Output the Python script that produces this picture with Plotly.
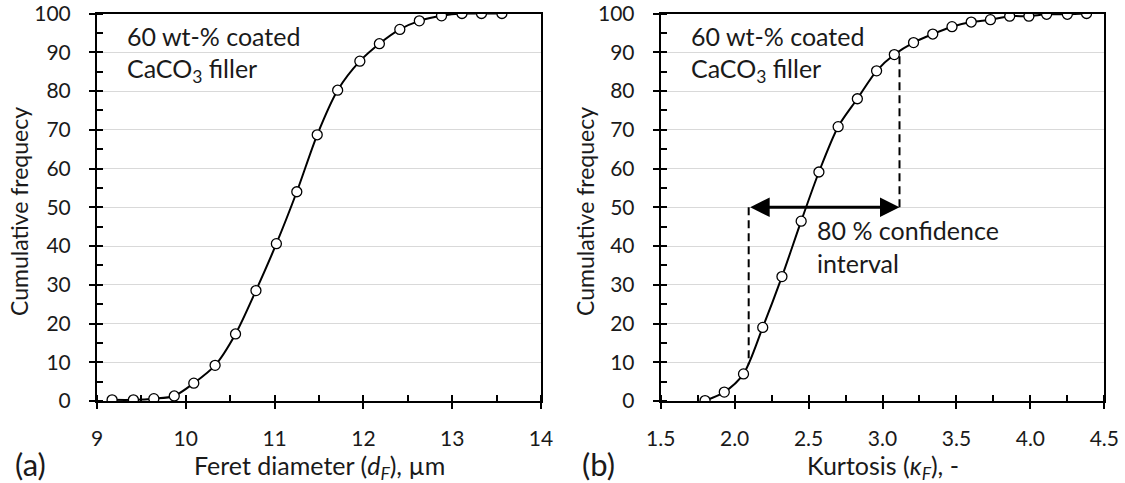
import plotly.graph_objects as go

# ---- data ----
feret_x = [9.17, 9.41, 9.64, 9.87, 10.09, 10.33, 10.56, 10.79, 11.02, 11.25,
           11.48, 11.71, 11.96, 12.18, 12.41, 12.63, 12.88, 13.11, 13.33, 13.56]
feret_y = [0.3, 0.3, 0.6, 1.3, 4.6, 9.2, 17.3, 28.5, 40.6, 54.0,
           68.7, 80.2, 87.7, 92.2, 95.9, 98.1, 99.4, 100.0, 100.0, 100.0]

kurt_x = [1.80, 1.93, 2.06, 2.19, 2.32, 2.45, 2.57, 2.70, 2.83, 2.96,
          3.08, 3.21, 3.34, 3.47, 3.60, 3.73, 3.86, 3.99, 4.11, 4.25, 4.38]
kurt_y = [0.1, 2.3, 7.0, 19.0, 32.1, 46.4, 59.1, 70.8, 78.0, 85.2,
          89.4, 92.5, 94.7, 96.6, 97.8, 98.4, 99.3, 99.3, 99.8, 99.8, 100.0]

ci_low, ci_high = 2.095, 3.115       # 80 % confidence interval bounds
ci_low_curve, ci_high_curve = 9.5, 89.0
ci_level = 50

feret_ticks = [9, 10, 11, 12, 13, 14]
kurt_ticks = [1.5, 2.0, 2.5, 3.0, 3.5, 4.0, 4.5]
y_ticks = list(range(0, 101, 10))

FONT = "Lato"
TXT = "#1a1a1a"
W, H = 1125, 483

fig = go.Figure()

marker = dict(size=10, color="white", line=dict(color="black", width=1.3))
line = dict(color="black", width=2, shape="spline", smoothing=0.8)

fig.add_trace(go.Scatter(x=feret_x, y=feret_y, mode="lines+markers", line=line,
                         marker=marker, xaxis="x", yaxis="y", showlegend=False))
fig.add_trace(go.Scatter(x=kurt_x, y=kurt_y, mode="lines+markers", line=line,
                         marker=marker, xaxis="x2", yaxis="y2", showlegend=False))
# dashed confidence bounds
dash = dict(color="black", width=2, dash="8px,5px")
fig.add_trace(go.Scatter(x=[ci_low, ci_low], y=[ci_level, ci_low_curve], mode="lines",
                         line=dash, xaxis="x2", yaxis="y2", showlegend=False))
fig.add_trace(go.Scatter(x=[ci_high, ci_high], y=[ci_level, ci_high_curve], mode="lines",
                         line=dash, xaxis="x2", yaxis="y2", showlegend=False))
# empty traces to materialise overlay tick axes
fig.add_trace(go.Scatter(x=[], y=[], xaxis="x3", yaxis="y3", showlegend=False))
fig.add_trace(go.Scatter(x=[], y=[], xaxis="x4", yaxis="y4", showlegend=False))

ydom = [1 - 401 / H, 1 - 13.5 / H]
xdom1 = [97 / W, 541 / W]
xdom2 = [660.7 / W, 1104.3 / W]

tickfont = dict(family=FONT, size=21, color=TXT)

def xax(dom, rng, ticks, fmt, anchor, minor_dt):
    return dict(domain=dom, range=rng, tickvals=ticks, ticktext=[fmt.format(t) for t in ticks],
                ticks="outside", ticklen=6, tickwidth=2, tickcolor="black",
                minor=dict(dtick=minor_dt, tick0=rng[0], ticks="inside", ticklen=6,
                           tickwidth=2, tickcolor="black", showgrid=False),
                showline=True, linecolor="black", linewidth=2, mirror=True,
                showgrid=False, zeroline=False, anchor=anchor, tickfont=tickfont,
                ticklabelstandoff=12, automargin=False, ticklabeloverflow="allow")

def yax(anchor):
    return dict(domain=ydom, range=[0, 100], tickvals=y_ticks,
                ticks="outside", ticklen=6, tickwidth=2, tickcolor="black",
                minor=dict(dtick=5, tick0=0, ticks="inside", ticklen=6,
                           tickwidth=2, tickcolor="black", showgrid=False),
                showline=True, linecolor="black", linewidth=2, mirror=True,
                showgrid=True, gridcolor="#d9d9d9", gridwidth=1,
                zeroline=False, anchor=anchor, tickfont=tickfont,
                ticklabelstandoff=14, automargin=False, ticklabeloverflow="allow")

def overlay_x(over, dom, rng, ticks, anchor):
    return dict(overlaying=over, domain=dom, range=rng, tickvals=ticks, showticklabels=False,
                ticks="inside", ticklen=6, tickwidth=2, tickcolor="black",
                showline=False, showgrid=False, zeroline=False, anchor=anchor, side="bottom",
                automargin=False)

def overlay_y(over, anchor):
    return dict(overlaying=over, domain=ydom, range=[0, 100], tickvals=y_ticks,
                showticklabels=False, ticks="inside", ticklen=6, tickwidth=2,
                tickcolor="black", showline=False, showgrid=False, zeroline=False,
                anchor=anchor, side="left", automargin=False)

fig.update_layout(
    width=W, height=H, margin=dict(l=0, r=0, t=0, b=0, autoexpand=False),
    paper_bgcolor="white", plot_bgcolor="white",
    font=dict(family=FONT, color=TXT),
    xaxis=xax(xdom1, [9, 14], feret_ticks, "{:g}", "y", 0.5),
    yaxis=yax("x"),
    xaxis2=xax(xdom2, [1.5, 4.5], kurt_ticks, "{:.1f}", "y2", 0.25),
    yaxis2=yax("x2"),
    xaxis3=overlay_x("x", xdom1, [9, 14], feret_ticks, "y3"),
    yaxis3=overlay_y("y", "x3"),
    xaxis4=overlay_x("x2", xdom2, [1.5, 4.5], kurt_ticks, "y4"),
    yaxis4=overlay_y("y2", "x4"),
)

def ann(text, x, y, size, xanchor="left", yanchor="middle", angle=0):
    fig.add_annotation(text=text, x=x / W, y=1 - y / H, xref="paper", yref="paper",
                       xanchor=xanchor, yanchor=yanchor, showarrow=False, textangle=angle,
                       font=dict(family=FONT, size=size, color=TXT))

# in-plot labels
ann("60 wt-% coated", 125, 36, 25)
ann("CaCO<sub>3</sub> filler", 125, 70, 25)
ann("60 wt-% coated", 689, 36, 25)
ann("CaCO<sub>3</sub> filler", 689, 70, 25)
ann("80 % confidence", 815, 230, 25)
ann("interval", 815, 263, 25)

# axis titles
ann("Cumulative frequecy", 19, 212, 23, xanchor="center", angle=-90)
ann("Cumulative frequecy", 585, 212, 23, xanchor="center", angle=-90)
ann("Feret diameter (<i>d</i><sub><i>F</i></sub>), µm", 319, 467, 25, xanchor="center")
ann("Kurtosis (<i>κ</i><sub><i>F</i></sub>), -", 883, 467, 25, xanchor="center")
ann("(a)", 30, 464, 31, xanchor="center")
ann("(b)", 598, 464, 31, xanchor="center")

# double-headed arrow for the confidence interval
fig.add_annotation(x=ci_high, y=ci_level, ax=ci_low, ay=ci_level, xref="x2", yref="y2",
                   axref="x2", ayref="y2", text="", showarrow=True, arrowhead=2,
                   startarrowhead=2, arrowside="end+start", arrowwidth=3, arrowsize=1.3,
                   startarrowsize=1.3, arrowcolor="black")

fig.write_html("out.html", config={"displayModeBar": False},
               post_script="document.body.style.margin='0px';")
